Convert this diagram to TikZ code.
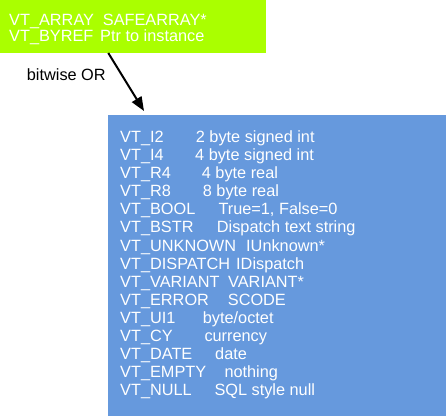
\documentclass[tikz,border=0pt]{standalone}
\usepackage{fontspec}
\setmainfont{Liberation Sans}
\usetikzlibrary{arrows.meta}
\definecolor{limeg}{RGB}{170,255,0}
\definecolor{boxblue}{RGB}{102,153,221}
\begin{document}
\begin{tikzpicture}[x=1pt,y=-1pt,
  txt/.style={anchor=base west,inner sep=0pt,text=white,font=\fontsize{16.3}{19}\selectfont},
  lbl/.style={anchor=base west,inner sep=0pt,text=black,font=\fontsize{16.3}{19}\selectfont},
  conn/.style={line width=2pt,-{Triangle[length=14pt,width=11pt]}}]
\useasboundingbox (0,0) rectangle (446,416);
\node[fill=limeg,draw=none,minimum width=266pt,minimum height=53pt,anchor=north west,inner sep=0pt] (green) at (0,0) {};
\node[fill=boxblue,draw=none,minimum width=338pt,minimum height=301pt,anchor=north west,inner sep=0pt] (blue) at (108,115) {};
% green texts
\node[txt] (g1) at (9,25) {VT\_ARRAY};
\node[txt] (g1d) at (102.7,25) {SAFEARRAY*};
\node[txt] (g2) at (9,41.7) {VT\_BYREF};
\node[txt] (g2d) at (100,41.7) {Ptr to instance};
% connector
\coordinate (from) at (108.3,53);
\coordinate (to) at (144,111);
\draw[conn] (from) -- (to);
\node[lbl] (or) at (26.7,80) {bitwise OR};
% blue texts
\foreach \n/\a/\d/\x [count=\i from 0] in {
  {VT\_I2}/{2 byte signed int}/195.7/a,
  {VT\_I4}/{4 byte signed int}/195/b,
  {VT\_R4}/{4 byte real}/201.7/c,
  {VT\_R8}/{8 byte real}/202.7/d,
  {VT\_BOOL}/{True=1, False=0}/218.3/e,
  {VT\_BSTR}/{Dispatch text string}/216.7/f,
  {VT\_UNKNOWN}/{IUnknown*}/246/g,
  {VT\_DISPATCH}/{IDispatch}/236/h,
  {VT\_VARIANT}/{VARIANT*}/228/i,
  {VT\_ERROR}/{SCODE}/227.7/j,
  {VT\_UI1}/{byte/octet}/202.7/k,
  {VT\_CY}/{currency}/204.3/l,
  {VT\_DATE}/{date}/215/m,
  {VT\_EMPTY}/{nothing}/224.3/n,
  {VT\_NULL}/{SQL style null}/214.3/o}
{
  \node[txt] (vt\x) at (120,142.7+18.05*\i) {\n};
  \node[txt] (ds\x) at (\d,142.7+18.05*\i) {\a};
}
\end{tikzpicture}
\end{document}
